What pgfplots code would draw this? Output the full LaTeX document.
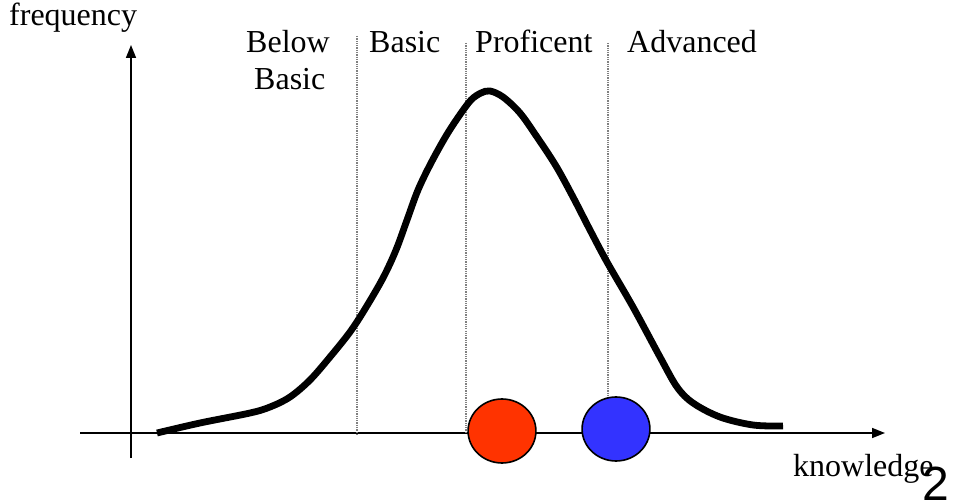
\documentclass[border=0pt]{standalone}
\usepackage{pgfplots}
\pgfplotsset{compat=1.18}
\usepackage{fontspec}
\setmainfont{Liberation Serif}
\newfontfamily\numfont{Liberation Sans}
\usetikzlibrary{arrows.meta}
\definecolor{dotred}{RGB}{255,51,0}
\definecolor{dotblue}{RGB}{51,51,255}
\begin{document}
\begin{tikzpicture}
\begin{axis}[x=1pt, y=1pt, xmin=0, xmax=957, ymin=0, ymax=502, y dir=reverse,
  hide axis, clip=false, scale only axis]
\path (axis cs:0,0) (axis cs:957,502);
% axes
\addplot[black, line width=1.6pt, -{Triangle[length=13pt,width=10pt]}] coordinates {(80,433) (885,433)};
\addplot[black, line width=1.6pt, -{Triangle[length=13pt,width=10pt]}] coordinates {(131,458) (131,45)};
% dividers
\addplot[gray, line width=1.3pt, densely dotted] coordinates {(357,36) (357,436)};
\addplot[gray, line width=1.3pt, densely dotted] coordinates {(466,43) (466,433)};
\addplot[gray, line width=1.3pt, densely dotted] coordinates {(608,43) (608,433)};
% curve
\addplot[black, line width=6.8pt, smooth, tension=0.55] coordinates {
(157,433) (200,423) (250,413) (270,407) (290,397) (310,380) (330,357) (350,332)
(365,309) (383,278) (396,250) (407,220) (418,190) (431,163) (446,136) (459,116)
(471,100) (481,93) (490,91) (503,97) (520,113) (537,137) (556,166) (573,197) (590,230)
(607,262) (633,307) (660,357) (677,387) (693,403) (720,417) (753,425) (783,426)};
% dots
\addplot[only marks, mark=*, mark size=32pt, mark options={xscale=1.06, fill=dotred, draw=black, line width=1.6pt}] coordinates {(502,431)};
\addplot[only marks, mark=*, mark size=32pt, mark options={xscale=1.06, fill=dotblue, draw=black, line width=1.6pt}] coordinates {(616,429)};
% labels
\begin{scope}[every node/.style={inner sep=0pt, anchor=base west, font=\fontsize{32}{38}\selectfont}]
\node at (axis cs:9,26) {frequency};
\node at (axis cs:246,53) {Below};
\node at (axis cs:254,90) {Basic};
\node at (axis cs:369,53) {Basic};
\node at (axis cs:475,53) {Proficent};
\node at (axis cs:627,53) {Advanced};
\node at (axis cs:793,476) {knowledge};
\end{scope}
\node[inner sep=0pt, anchor=base west, font=\numfont\fontsize{48}{54}\selectfont] at (axis cs:922,500) {2};
\end{axis}
\end{tikzpicture}
\end{document}
